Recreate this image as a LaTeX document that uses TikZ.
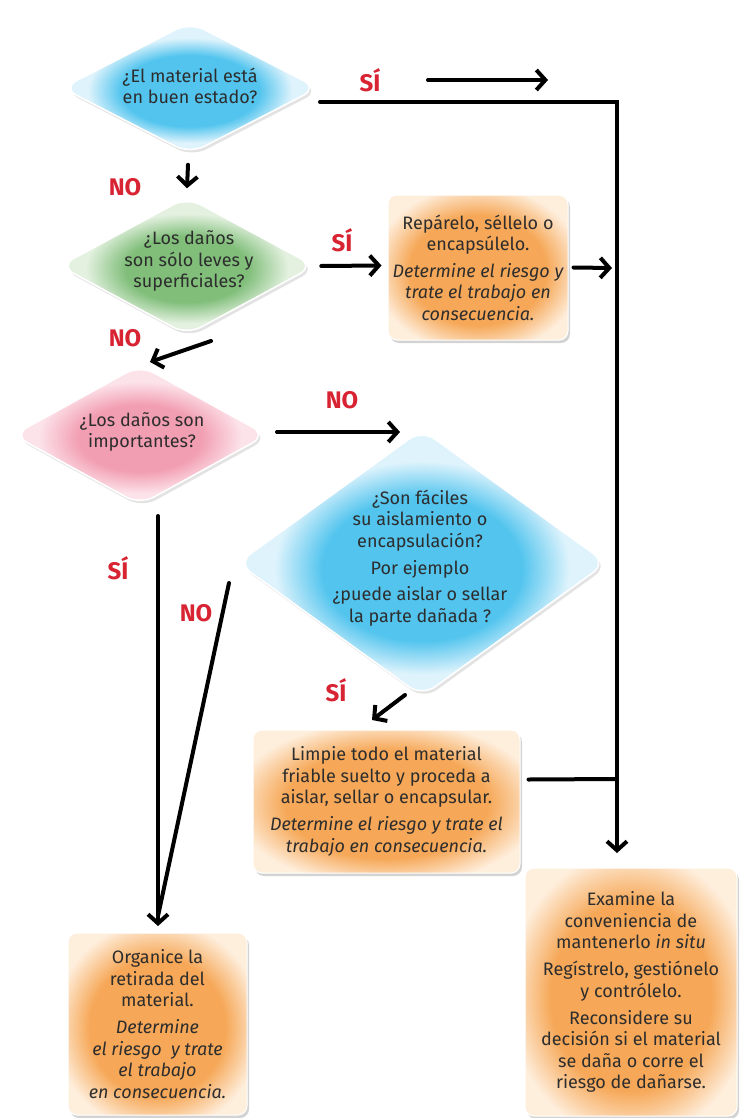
\documentclass[tikz,border=0pt]{standalone}
\usepackage{fontspec}
\setmainfont{Fira Sans}
\usetikzlibrary{shapes.geometric,arrows.meta,shadows,calc}
\definecolor{blI}{RGB}{82,196,238}
\definecolor{blO}{RGB}{222,243,252}
\definecolor{grI}{RGB}{128,190,122}
\definecolor{grO}{RGB}{228,241,224}
\definecolor{pkI}{RGB}{242,158,178}
\definecolor{pkO}{RGB}{252,226,233}
\definecolor{orI}{RGB}{246,168,88}
\definecolor{orO}{RGB}{254,238,220}
\definecolor{myred}{RGB}{215,35,50}
\definecolor{txtc}{RGB}{45,45,45}
\pgfdeclareradialshading{blsh}{\pgfpoint{0bp}{-1.5bp}}{color(0bp)=(blI); color(13.5bp)=(blI); color(20bp)=(blO); color(50bp)=(blO)}
\pgfdeclareradialshading{grsh}{\pgfpoint{0bp}{-1.5bp}}{color(0bp)=(grI); color(12bp)=(grI); color(20bp)=(grO); color(50bp)=(grO)}
\pgfdeclareradialshading{pksh}{\pgfpoint{0bp}{-1.5bp}}{color(0bp)=(pkI); color(12bp)=(pkI); color(20bp)=(pkO); color(50bp)=(pkO)}
\pgfdeclareradialshading{orsh}{\pgfpoint{0bp}{-1.5bp}}{color(0bp)=(orI); color(19bp)=(orI); color(29bp)=(orO); color(50bp)=(orO)}
\tikzset{
  dia/.style={diamond, inner sep=0pt, rounded corners=16pt, draw=white, line width=1.5pt,
    drop shadow={opacity=0.22, shadow xshift=2pt, shadow yshift=-3pt}, shade},
  box/.style={rectangle, inner sep=0pt, rounded corners=9pt, draw=white, line width=1pt,
    drop shadow={opacity=0.35, shadow xshift=2pt, shadow yshift=-3pt}, shade, shading=orsh,
    align=center, text=txtc, font=\fontsize{18}{21.5}\selectfont},
  txt/.style={align=center, text=txtc, font=\fontsize{18}{21.5}\selectfont, inner sep=0pt},
  lab/.style={text=myred, font=\bfseries\fontsize{24}{24}\selectfont, inner sep=0pt},
  ln/.style={line width=4pt, line cap=round, line join=miter},
  arr/.style={ln, -{Straight Barb[length=9pt,width=20pt]}}
}
\begin{document}
\begin{tikzpicture}[x=1pt,y=-1pt]
\useasboundingbox (0,0) rectangle (739,1118);
% shapes
\node[dia, shading=blsh, minimum width=256pt, minimum height=132pt] (d1) at (190,88) {};
\node[dia, shading=grsh, minimum width=255pt, minimum height=138pt] (d2) at (187,266) {};
\node[dia, shading=pksh, minimum width=254pt, minimum height=140pt] (d3) at (140,435) {};
\node[dia, shading=blsh, minimum width=369pt, minimum height=267pt] (d4) at (422,563) {};
\node[txt] (t1) at (190,86) {¿El material está\\en buen estado?};
\node[txt] (t2) at (189,261) {¿Los daños\\son sólo leves y\\superficiales?};
\node[txt] (t3) at (142,432) {¿Los daños son\\importantes?};
\node[txt] (t4) at (420,558) {¿Son fáciles\\su aislamiento o\\encapsulación?\\[5.5pt]Por ejemplo\\[5pt]¿puede aislar o sellar\\la parte dañada ?};
\node[box, minimum width=180pt, minimum height=145pt] (b1) at (478,267.5)
  {Repárelo, séllelo o\\encapsúlelo.\\[5pt]\itshape Determine el riesgo y\\\itshape trate el trabajo en\\\itshape consecuencia.};
\node[box, minimum width=267pt, minimum height=143pt] (b2) at (386.5,801.5)
  {Limpie todo el material\\friable suelto y proceda a\\aislar, sellar o encapsular.\\[5.5pt]\itshape Determine el riesgo y trate el\\\itshape trabajo en consecuencia.};
\node[box, minimum width=179pt, minimum height=182pt] (b4) at (157.5,1024)
  {Organice la\\retirada del\\material.\\[5.5pt]\itshape Determine\\\itshape el riesgo\ \ y trate\\\itshape el trabajo\\\itshape en consecuencia.};
\node[box, minimum width=212pt, minimum height=248pt] (b3) at (631,992)
  {Examine la\\conveniencia de\\mantenerlo \textit{in situ}\\[5.5pt]Regístrelo, gestiónelo\\y contrólelo.\\[5.5pt]Reconsidere su\\decisión si el material\\se daña o corre el\\riesgo de dañarse.};
% labels
\node[lab] (l1) at (370,80) {SÍ};
\node[lab] (l2) at (125,187) {NO};
\node[lab] (l3) at (342,240) {SÍ};
\node[lab] (l4) at (125,338) {NO};
\node[lab] (l5) at (342,400) {NO};
\node[lab] (l6) at (118,568) {SÍ};
\node[lab] (l7) at (196,613) {NO};
\node[lab] (l8) at (336,690) {SÍ};
% coordinates
\coordinate (c1) at (320,102);
\coordinate (vend) at (617,853);
\coordinate (sa) at (428,80);
\coordinate (sb) at (548,80);
\coordinate (j1) at (612,268);
\coordinate (j2) at (617,779);
\coordinate (n2a) at (211,341);
\coordinate (n2b) at (150,362);
\coordinate (n3a) at (277,432);
\coordinate (n3b) at (400,432);
\coordinate (s4a) at (405,695);
\coordinate (s4b) at (372,720);
\coordinate (lv1) at (158,516);
\coordinate (lv2) at (158,926);
\coordinate (nd1) at (229,583);
\coordinate (nd2) at (158,916);
% connectors
\draw[arr] (c1) -| (vend);
\draw[arr] (sa) -- (sb);
\draw[arr] ($(d1.south)+(-2,10)$) -- ($(d2.north)+(0,-8)$);
\draw[arr] ($(d2.east)+(6,0)$) -- ($(b1.west)+(-6,-2)$);
\draw[arr] ($(b1.east)+(5,0)$) -- (j1);
\draw[arr] (n2a) -- (n2b);
\draw[arr] (n3a) -- (n3b);
\draw[arr] (s4a) -- (s4b);
\draw[ln] ($(b2.east)+(8,-22)$) -- (j2);
\draw[arr] (lv1) -- (lv2);
\draw[ln] (nd1) -- (nd2);
\end{tikzpicture}
\end{document}
